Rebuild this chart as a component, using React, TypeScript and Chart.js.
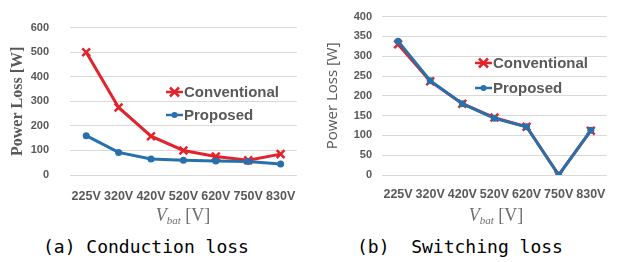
import React, { useEffect, useRef } from "react";
import { Chart, registerables } from "chart.js";

Chart.register(...registerables);

const categories = ["225V", "320V", "420V", "520V", "620V", "750V", "830V"];
const conductionConventional = [500, 275, 158, 100, 75, 60, 85];
const conductionProposed = [160, 92, 65, 60, 57, 55, 45];
const switchingConventional = [330, 237, 180, 145, 122, 0, 112];
const switchingProposed = [338, 238, 180, 143, 122, 0, 113];
const seriesNames = ["Conventional", "Proposed"];
const yTitle = "Power Loss [W]";
const captions = ["(a) Conduction loss", "(b)\u00a0 Switching loss"];

const RED = "#e3232b";
const BLUE = "#2670ad";
const GRID = "#d9d9d9";
const TEXT = "#595959";

const overlayPlugin = {
  id: "overlay",
  afterDraw(chart: any, _args: any, opts: any) {
    const ctx = chart.ctx as CanvasRenderingContext2D;
    ctx.save();
    const items = [
      { name: seriesNames[0], color: RED, marker: "x", y: opts.legendY[0] },
      { name: seriesNames[1], color: BLUE, marker: "o", y: opts.legendY[1] },
    ];
    items.forEach((it) => {
      const x0 = opts.legendX;
      ctx.strokeStyle = it.color;
      ctx.lineWidth = 2.5;
      ctx.beginPath();
      ctx.moveTo(x0, it.y);
      ctx.lineTo(x0 + 17, it.y);
      ctx.stroke();
      const cx = x0 + 8.5;
      if (it.marker === "x") {
        ctx.lineWidth = 2.5;
        ctx.beginPath();
        ctx.moveTo(cx - 4.5, it.y - 4.5);
        ctx.lineTo(cx + 4.5, it.y + 4.5);
        ctx.moveTo(cx + 4.5, it.y - 4.5);
        ctx.lineTo(cx - 4.5, it.y + 4.5);
        ctx.stroke();
      } else {
        ctx.fillStyle = it.color;
        ctx.beginPath();
        ctx.arc(cx, it.y, 3, 0, Math.PI * 2);
        ctx.fill();
      }
      ctx.fillStyle = TEXT;
      ctx.font = "bold 15px 'Liberation Sans', Arial, sans-serif";
      ctx.textBaseline = "middle";
      ctx.textAlign = "left";
      ctx.fillText(it.name, x0 + 18, it.y + 1);
    });
    const fam = "'Liberation Serif', 'Times New Roman', serif";
    const big = "italic 18px " + fam;
    const small = "italic 11px " + fam;
    const norm = "18px " + fam;
    ctx.font = big;
    const w1 = ctx.measureText("V").width;
    ctx.font = small;
    const w2 = ctx.measureText("bat").width;
    ctx.font = norm;
    const w3 = ctx.measureText(" [V]").width;
    const total = w1 + w2 + w3;
    let x = opts.xTitleX - total / 2;
    const by = opts.xTitleY;
    ctx.fillStyle = "#6f6f6f";
    ctx.textBaseline = "alphabetic";
    ctx.textAlign = "left";
    ctx.font = big;
    ctx.fillText("V", x, by);
    x += w1;
    ctx.font = small;
    ctx.fillText("bat", x, by + 3);
    x += w2;
    ctx.font = norm;
    ctx.fillText(" [V]", x, by);
    ctx.restore();
  },
};

type Cfg = {
  conv: number[];
  prop: number[];
  max: number;
  step: number;
  yWidth: number;
  padRight: number;
  yTickPad: number;
  xTickPad: number;
  titleFont: any;
  titlePad: number;
  legendX: number;
  legendY: number[];
  xTitleX: number;
  xTitleY: number;
};

function LossChart({ cfg, width, height }: { cfg: Cfg; width: number; height: number }) {
  const ref = useRef<HTMLCanvasElement>(null);
  useEffect(() => {
    if (!ref.current) return;
    const chart = new Chart(ref.current, {
      type: "line",
      data: {
        labels: categories,
        datasets: [
          {
            label: seriesNames[1],
            data: cfg.prop,
            borderColor: BLUE,
            backgroundColor: BLUE,
            borderWidth: 3,
            pointStyle: "circle",
            pointRadius: 3.5,
            pointBorderWidth: 0,
            order: 0,
          },
          {
            label: seriesNames[0],
            data: cfg.conv,
            borderColor: RED,
            backgroundColor: RED,
            borderWidth: 3,
            pointStyle: "crossRot",
            pointRadius: 5.5,
            pointBorderWidth: 2.5,
            order: 1,
          },
        ],
      },
      options: {
        animation: false,
        responsive: false,
        maintainAspectRatio: false,
        layout: { padding: { left: 0, right: cfg.padRight, top: 16, bottom: 0 } },
        plugins: {
          legend: { display: false },
          tooltip: { enabled: false },
          overlay: {
            legendX: cfg.legendX,
            legendY: cfg.legendY,
            xTitleX: cfg.xTitleX,
            xTitleY: cfg.xTitleY,
          },
        } as any,
        scales: {
          x: {
            offset: true,
            grid: { display: false, drawTicks: false },
            border: { display: false },
            ticks: {
              color: TEXT,
              font: { family: "'Liberation Sans', Arial, sans-serif", size: 12.5, weight: "bold" },
              padding: cfg.xTickPad,
              maxRotation: 0,
              autoSkip: false,
            },
            afterFit: (s: any) => {
              s.height = height - 175;
            },
          },
          y: {
            min: 0,
            max: cfg.max,
            ticks: {
              stepSize: cfg.step,
              color: TEXT,
              font: { family: "'Liberation Sans', Arial, sans-serif", size: 11, weight: "bold" },
              padding: cfg.yTickPad,
            },
            grid: { color: GRID, lineWidth: 1, drawTicks: false },
            border: { display: false },
            title: {
              display: true,
              text: yTitle,
              color: TEXT,
              font: cfg.titleFont,
              padding: { top: cfg.titlePad, bottom: 0 },
            },
            afterFit: (s: any) => {
              s.width = cfg.yWidth;
            },
          },
        },
      },
      plugins: [overlayPlugin as any],
    });
    return () => chart.destroy();
  }, []);
  return <canvas ref={ref} width={width} height={height} style={{ width, height, display: "block" }} />;
}

const leftCfg: Cfg = {
  conv: conductionConventional,
  prop: conductionProposed,
  max: 600,
  step: 100,
  yWidth: 70,
  padRight: 11,
  yTickPad: 21,
  xTickPad: 14,
  titleFont: { family: "'Liberation Serif', 'Times New Roman', serif", size: 16, weight: "bold" },
  titlePad: 8,
  legendX: 166,
  legendY: [92, 115],
  xTitleX: 183,
  xTitleY: 221,
};

const rightCfg: Cfg = {
  conv: switchingConventional,
  prop: switchingProposed,
  max: 400,
  step: 50,
  yWidth: 72,
  padRight: 7,
  yTickPad: 10,
  xTickPad: 12,
  titleFont: { family: "'Open Sans', 'Liberation Sans', sans-serif", size: 15, weight: "normal" },
  titlePad: 14,
  legendX: 165,
  legendY: [63, 88],
  xTitleX: 186,
  xTitleY: 221,
};

export default function App() {
  const capStyle: React.CSSProperties = {
    position: "absolute",
    top: 236,
    fontFamily: "'DejaVu Sans Mono', monospace",
    fontSize: 18,
    color: "#000",
    whiteSpace: "pre",
  };
  return (
    <div style={{ position: "fixed", left: 0, top: 0, width: 618, height: 262, background: "#fff", overflow: "hidden" }}>
      <div style={{ position: "absolute", left: 0, top: 0 }}>
        <LossChart cfg={leftCfg} width={310} height={232} />
      </div>
      <div style={{ position: "absolute", left: 310, top: 0 }}>
        <LossChart cfg={rightCfg} width={308} height={232} />
      </div>
      <div style={{ ...capStyle, left: 43 }}>{captions[0]}</div>
      <div style={{ ...capStyle, left: 357 }}>{captions[1]}</div>
    </div>
  );
}
